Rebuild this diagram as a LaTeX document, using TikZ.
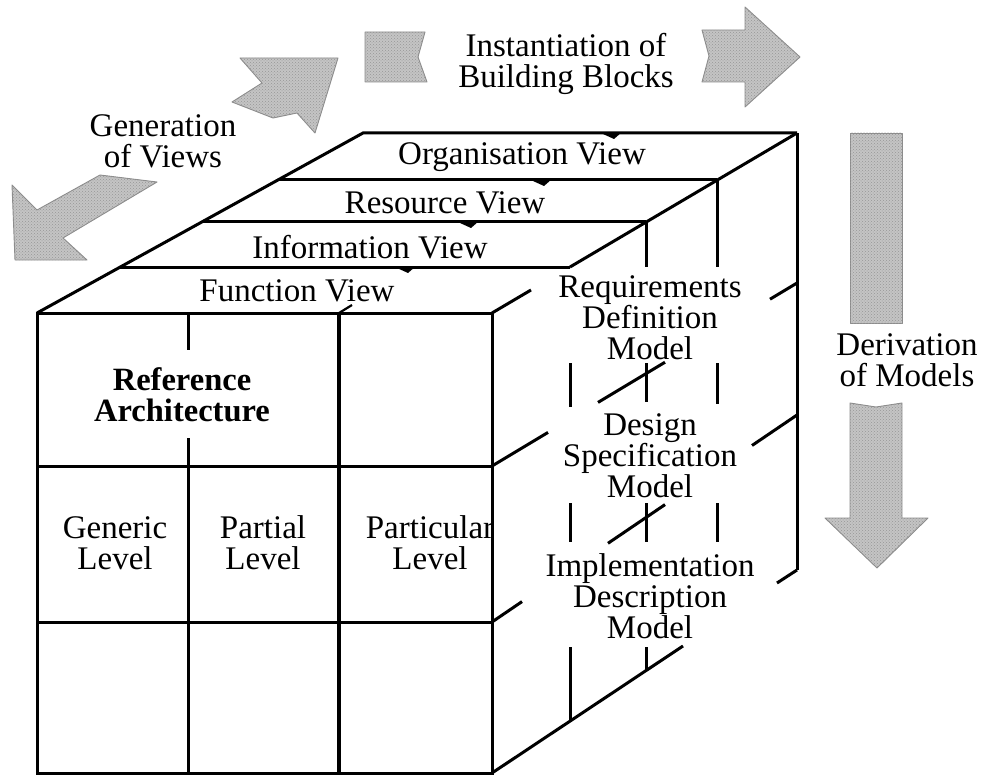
\documentclass[tikz,border=0pt]{standalone}
\usepackage{fontspec}
\setmainfont{Liberation Serif}
\usetikzlibrary{patterns}
\definecolor{arrowgray}{RGB}{196,196,196}
\definecolor{arrowedge}{RGB}{140,140,140}
\definecolor{dotgray}{RGB}{150,150,150}
\begin{document}
\begin{tikzpicture}[x=1pt,y=-1pt,
  cube/.style={line width=3pt},
  heavy/.style={line width=4pt},
  blockarrow/.style={fill=arrowgray, draw=arrowedge, line width=0.9pt, line join=round,
     postaction={pattern=crosshatch dots, pattern color=dotgray}},
  lbl/.style={font=\fontsize{33}{31}\selectfont, align=center, inner sep=0pt},
  blbl/.style={lbl, font=\fontsize{32.5}{31}\selectfont\bfseries},
  tickmark/.style={fill=black}]
\useasboundingbox (0,0) rectangle (985,778);

% ---------- corners ----------
\coordinate (FTL) at (37,313);
\coordinate (FTR) at (492,313);
\coordinate (FBL) at (37,773);
\coordinate (FBR) at (492,773);
\coordinate (BTL) at (363,133);
\coordinate (BTR) at (797,133);
\coordinate (BBR) at (797,570);

% ---------- front face ----------
\draw[cube] (FTL) rectangle (FBR);
\draw[cube] (37,466) -- (492,466);
\draw[cube] (37,622) -- (492,622);
\draw[cube] (188,313) -- (188,350);
\draw[cube] (188,438) -- (188,773);
\draw[heavy] (339,313) -- (339,773);

% ---------- top face ----------
\draw[cube] (FTL) -- (BTL) -- (BTR);
\draw[cube] (FTR) -- (531,290);
\draw[cube] (570,267) -- (BTR);
\draw[cube] (278,180) -- (717,180);
\draw[cube] (202,222) -- (646,222);
\draw[cube] (120,267) -- (570,267);

% small hidden-edge marks
\foreach \x/\y in {613/133, 543/180, 470/222, 407/267}{
  \fill[tickmark] (\x-10,\y+1) -- (\x+9,\y-1) -- (\x+1,\y+6) -- cycle;
}
\draw[line width=2.2pt] (339,313) -- (352,305);

% ---------- right face ----------
\draw[cube] (FTR) -- (492,505);
\draw[cube] (492,577) -- (FBR);
\draw[cube] (BTR) -- (BBR);
\draw[cube] (FBR) -- (683,646);
\draw[cube] (777,583) -- (BBR);
% row 1 boundary
\draw[cube] (492,466) -- (548,432.4);
\draw[cube] (598,402.4) -- (665,362.2);
\draw[cube] (770,299.2) -- (797,283);
% row 2 boundary
\draw[cube] (492,622) -- (522,601.6);
\draw[cube] (608,543.3) -- (665,504.6);
\draw[cube] (752,445.5) -- (797,415);
% depth verticals
\draw[cube] (717,180) -- (717,267);
\draw[cube] (717,363) -- (717,404);
\draw[cube] (717,503) -- (717,542);
\draw[cube] (646,222) -- (646,267);
\draw[cube] (646,363) -- (646,402);
\draw[cube] (646,503) -- (646,542);
\draw[cube] (646,647) -- (646,670.5);
\draw[cube] (570,363) -- (570,407);
\draw[cube] (570,503) -- (570,542);
\draw[cube] (570,647) -- (570,721);

% ---------- grey block arrows ----------
\draw[blockarrow] (240,58) -- (338,58) -- (315,133) -- (297,113) -- (273,118) -- (232,102) -- (262,83) -- cycle;
\draw[blockarrow] (12,185) -- (37,210) -- (100,175) -- (157,182) -- (63,238) -- (87,260) -- (15,260) -- cycle;
\draw[blockarrow] (365,32) -- (425,32) -- (418,57) -- (427,82) -- (365,82) -- cycle;
\draw[blockarrow] (702,30) -- (745,30) -- (745,7) -- (800,57) -- (745,107) -- (745,82) -- (702,82) -- (709,56) -- cycle;
\draw[blockarrow] (850,133) -- (902,133) -- (902,323) -- (850,323) -- cycle;
\draw[blockarrow] (850,403) -- (876,407) -- (902,403) -- (902,518) -- (928,518) -- (877,568) -- (825,518) -- (850,518) -- cycle;

% ---------- labels ----------
\node[lbl] (org)   at (522,157) {Organisation View};
\node[lbl] (res)   at (445,203) {Resource View};
\node[lbl] (info)  at (370,247) {Information View};
\node[lbl] (func)  at (297,291) {Function View};
\node[blbl] (ra)   at (182,395) {Reference\\Architecture};
\node[lbl] (gen)   at (115,543) {Generic\\Level};
\node[lbl] (par)   at (263,543) {Partial\\Level};
\node[lbl] (parti) at (430,543) {Particular\\Level};
\node[lbl] (req)   at (650,318) {Requirements\\Definition\\Model};
\node[lbl] (des)   at (650,456) {Design\\Specification\\Model};
\node[lbl] (imp)   at (650,596) {Implementation\\Description\\Model};
\node[lbl] (der)   at (907,360) {Derivation\\of Models};
\node[lbl] (inst)  at (566,64) {Instantiation of\\Building Blocks};
\node[lbl] (genv)  at (163,141) {Generation\\of Views};
\end{tikzpicture}
\end{document}
